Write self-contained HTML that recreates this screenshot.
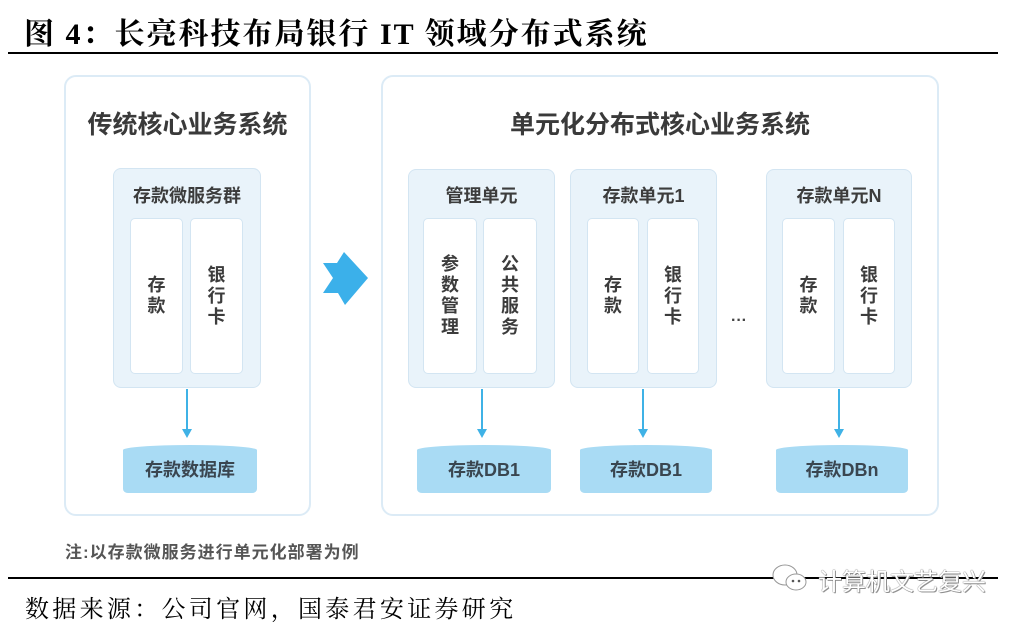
<!DOCTYPE html>
<html><head><meta charset="utf-8">
<style>
*{margin:0;padding:0;box-sizing:border-box}
body{width:1027px;height:624px;background:#fff;position:relative;overflow:hidden;font-family:"Liberation Sans","Noto Sans CJK SC",sans-serif}
.a{position:absolute}
.title{left:24px;top:9px;font-family:"Liberation Serif","Noto Serif CJK SC",serif;font-weight:bold;font-size:30px;color:#000;white-space:nowrap;letter-spacing:2px}
.hl{background:#000;height:2px}
.outer{border:2px solid #dcebf6;border-radius:12px;background:#fff}
.h1{font-size:25px;font-weight:bold;color:#3a3a3a;white-space:nowrap;text-align:center}
.grp{background:#e9f3fa;border:1.5px solid #d3e5f2;border-radius:8px}
.gl{font-size:18px;font-weight:bold;color:#3c3c3c;text-align:center;white-space:nowrap}
.sb{background:#fff;border:1.5px solid #d3e5f2;border-radius:5px;display:flex;align-items:center;justify-content:center}
.vt{font-size:18px;font-weight:bold;color:#3c3c3c;line-height:21px;text-align:center;width:20px}
.db{background:#a9dbf4;border-radius:50% 50% 5px 5px / 5px 5px 4px 4px;display:flex;align-items:center;justify-content:center;font-size:18px;font-weight:bold;color:#3a4650;white-space:nowrap}
.ln{background:#3fb2e6;width:2px}
.ah{width:0;height:0;border-left:5px solid transparent;border-right:5px solid transparent;border-top:9px solid #3fb2e6}
</style></head><body>
<div class="a title">图 4：长亮科技布局银行 IT 领域分布式系统</div>
<div class="a hl" style="left:8px;top:52px;width:990px"></div>

<!-- Left big box -->
<div class="a outer" style="left:64px;top:75px;width:247px;height:441px"></div>
<div class="a h1" style="left:64px;top:105px;width:247px">传统核心业务系统</div>
<div class="a grp" style="left:113px;top:168px;width:148px;height:220px"></div>
<div class="a gl" style="left:113px;top:182px;width:148px">存款微服务群</div>
<div class="a sb" style="left:130px;top:218px;width:53px;height:156px"><div class="vt">存<br>款</div></div>
<div class="a sb" style="left:190px;top:218px;width:53px;height:156px"><div class="vt">银<br>行<br>卡</div></div>
<div class="a ln" style="left:186px;top:389px;height:41px"></div>
<div class="a ah" style="left:182px;top:429px"></div>
<div class="a db" style="left:123px;top:445px;width:134px;height:48px">存款数据库</div>

<!-- arrow -->
<svg class="a" style="left:0;top:0" width="1027" height="624"><polygon points="323,263 337,263 344,252 368,278 345,305 338,293 323,293 333,278" fill="#3bb0ea"/></svg>

<!-- Right big box -->
<div class="a outer" style="left:381px;top:75px;width:558px;height:441px"></div>
<div class="a h1" style="left:381px;top:105px;width:558px">单元化分布式核心业务系统</div>

<!-- management unit -->
<div class="a grp" style="left:408px;top:169px;width:147px;height:219px"></div>
<div class="a gl" style="left:408px;top:182px;width:147px">管理单元</div>
<div class="a sb" style="left:423px;top:218px;width:54px;height:156px"><div class="vt">参<br>数<br>管<br>理</div></div>
<div class="a sb" style="left:483px;top:218px;width:54px;height:156px"><div class="vt">公<br>共<br>服<br>务</div></div>
<div class="a ln" style="left:481px;top:389px;height:41px"></div>
<div class="a ah" style="left:477px;top:429px"></div>
<div class="a db" style="left:417px;top:445px;width:134px;height:48px">存款DB1</div>

<!-- deposit unit 1 -->
<div class="a grp" style="left:570px;top:169px;width:147px;height:219px"></div>
<div class="a gl" style="left:570px;top:182px;width:147px">存款单元1</div>
<div class="a sb" style="left:587px;top:218px;width:52px;height:156px"><div class="vt">存<br>款</div></div>
<div class="a sb" style="left:647px;top:218px;width:52px;height:156px"><div class="vt">银<br>行<br>卡</div></div>
<div class="a ln" style="left:642px;top:389px;height:41px"></div>
<div class="a ah" style="left:638px;top:429px"></div>
<div class="a db" style="left:580px;top:445px;width:132px;height:48px">存款DB1</div>

<div class="a" style="left:731px;top:312px;font-size:16px;color:#444;font-weight:bold">···</div>

<!-- deposit unit N -->
<div class="a grp" style="left:766px;top:169px;width:146px;height:219px"></div>
<div class="a gl" style="left:766px;top:182px;width:146px">存款单元N</div>
<div class="a sb" style="left:782px;top:218px;width:53px;height:156px"><div class="vt">存<br>款</div></div>
<div class="a sb" style="left:843px;top:218px;width:52px;height:156px"><div class="vt">银<br>行<br>卡</div></div>
<div class="a ln" style="left:838px;top:389px;height:41px"></div>
<div class="a ah" style="left:834px;top:429px"></div>
<div class="a db" style="left:776px;top:445px;width:132px;height:48px">存款DBn</div>

<div class="a" style="left:65px;top:538px;font-size:17px;font-weight:bold;color:#555;white-space:nowrap;letter-spacing:1px">注:以存款微服务进行单元化部署为例</div>

<div class="a hl" style="left:8px;top:577px;width:990px"></div>
<div class="a" style="left:25px;top:589px;font-family:'Liberation Serif','Noto Serif CJK SC',serif;font-size:24px;color:#000;white-space:nowrap;letter-spacing:3.3px">数据来源：公司官网，国泰君安证券研究</div>

<!-- watermark -->
<svg class="a" style="left:770px;top:563px" width="42" height="32"><ellipse cx="15" cy="12" rx="12" ry="10" fill="#fff" stroke="#999" stroke-width="1"/><ellipse cx="26" cy="19" rx="10" ry="8" fill="#fff" stroke="#999" stroke-width="1"/><circle cx="23" cy="18" r="1.3" fill="#555"/><circle cx="29" cy="18" r="1.3" fill="#555"/></svg>
<div class="a" style="left:818px;top:562px;font-size:24px;color:#fff;white-space:nowrap;text-shadow:0 0 1px #777,0 0 1px #777,1px 1px 0 #999">计算机文艺复兴</div>
</body></html>
